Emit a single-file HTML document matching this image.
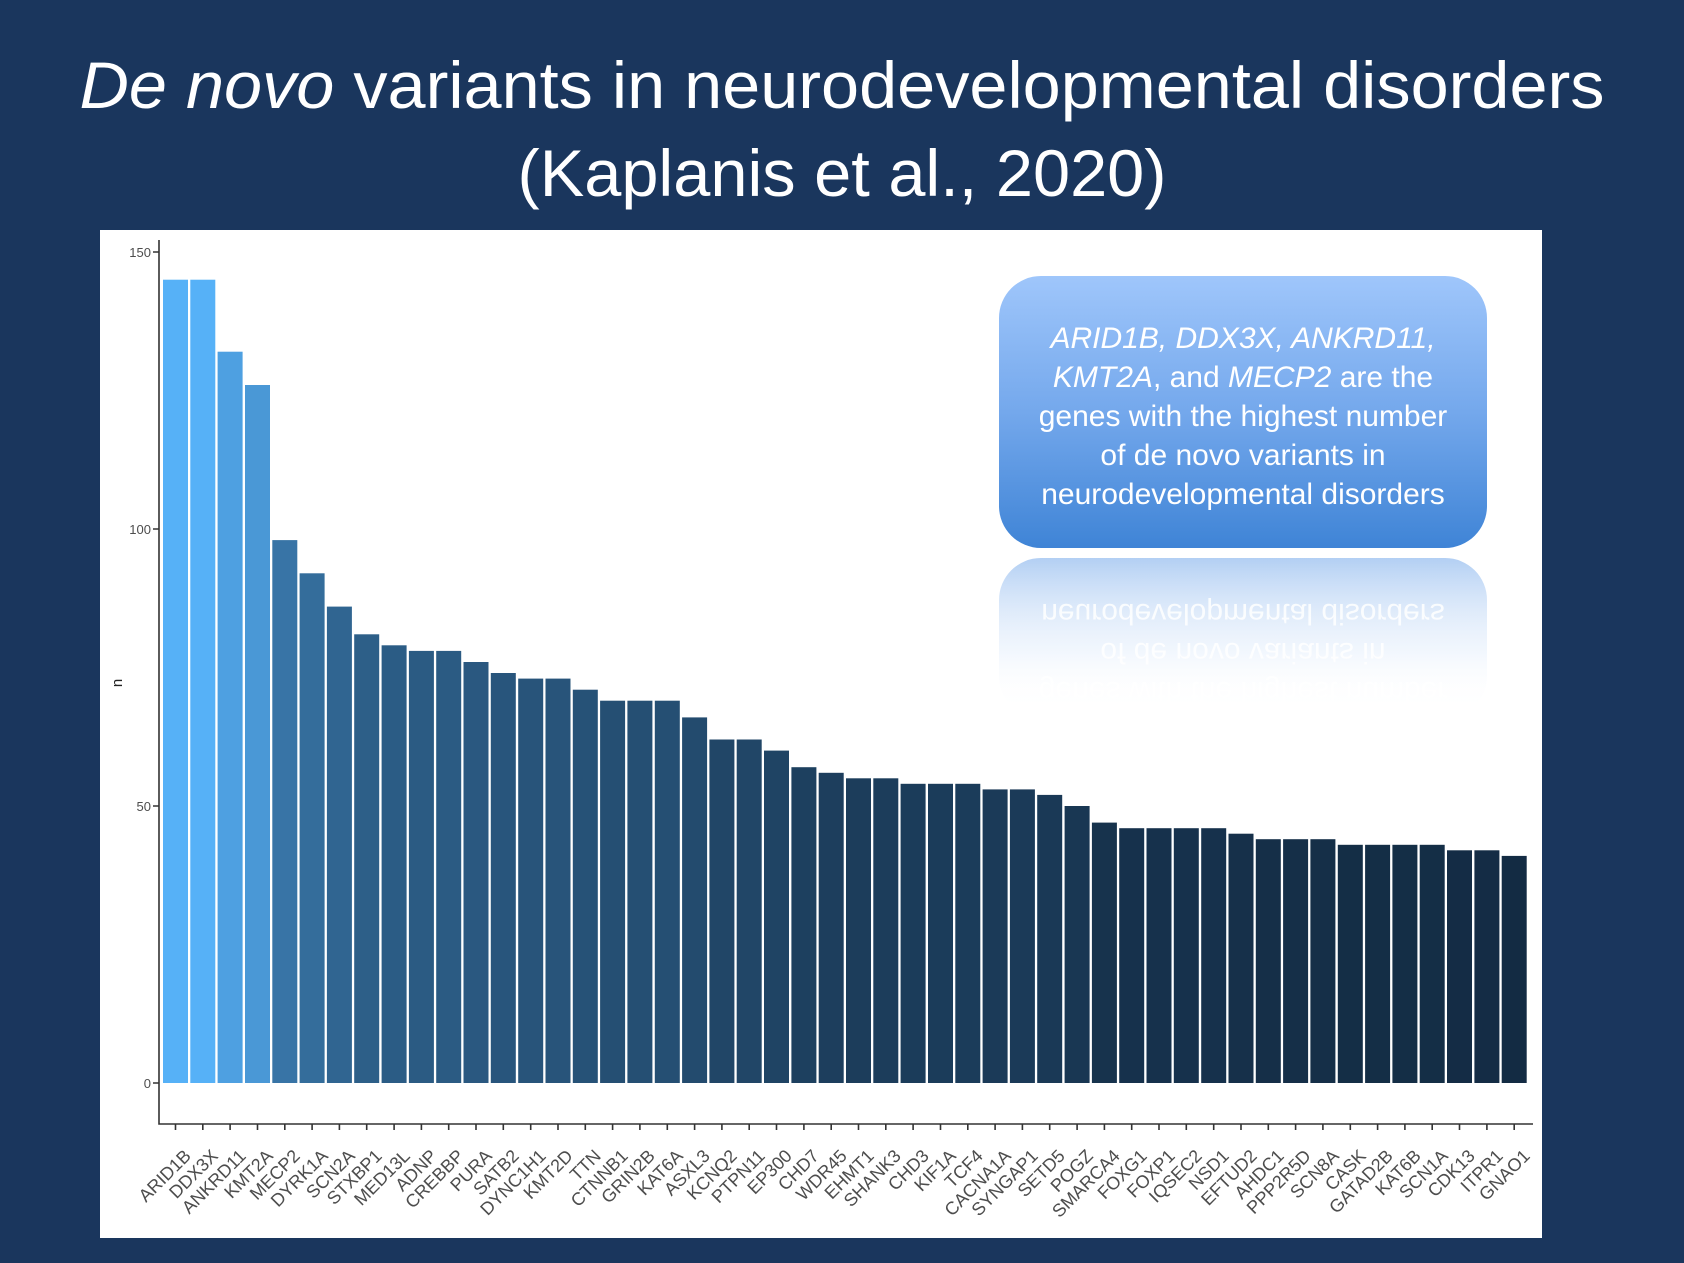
<!DOCTYPE html>
<html><head><meta charset="utf-8"><style>
html,body{margin:0;padding:0;background:#1a365d;}
svg{display:block;}
</style></head><body>
<svg width="1684" height="1263" viewBox="0 0 1684 1263" xmlns="http://www.w3.org/2000/svg">
<defs>
<linearGradient id="box" x1="0" y1="0" x2="0" y2="1">
<stop offset="0" stop-color="#9fc6fb"/><stop offset="0.5" stop-color="#74a8ec"/><stop offset="1" stop-color="#3f84d6"/>
</linearGradient>
<linearGradient id="refl" x1="0" y1="0" x2="0" y2="1">
<stop offset="0" stop-color="#a9c9f2" stop-opacity="0.9"/><stop offset="0.6" stop-color="#d6e6fa" stop-opacity="0.5"/><stop offset="1" stop-color="#ffffff" stop-opacity="0"/>
</linearGradient>
<linearGradient id="fadeT" x1="0" y1="0" x2="0" y2="1">
<stop offset="0" stop-color="#fff" stop-opacity="0"/><stop offset="0.55" stop-color="#fff" stop-opacity="0.4"/><stop offset="1" stop-color="#fff" stop-opacity="1"/>
</linearGradient>
</defs>
<rect width="1684" height="1263" fill="#1a365d"/>
<g font-family="'Liberation Sans', sans-serif" fill="#fff" font-size="66" text-anchor="middle">
<text x="842" y="108" textLength="1525" lengthAdjust="spacingAndGlyphs"><tspan font-style="italic">De novo</tspan> variants in neurodevelopmental disorders</text>
<text x="842" y="196" textLength="649" lengthAdjust="spacingAndGlyphs">(Kaplanis et al., 2020)</text>
</g>
<rect x="100" y="230" width="1442" height="1008" fill="#fff"/>
<g>
<rect x="163.0" y="279.7" width="25" height="803.3" fill="#56b1f7"/>
<rect x="190.3" y="279.7" width="25" height="803.3" fill="#56b1f7"/>
<rect x="217.6" y="351.7" width="25" height="731.3" fill="#4ea0e1"/>
<rect x="245.0" y="385.0" width="25" height="698.0" fill="#4a98d6"/>
<rect x="272.3" y="540.1" width="25" height="542.9" fill="#3874a6"/>
<rect x="299.6" y="573.3" width="25" height="509.7" fill="#346d9b"/>
<rect x="326.9" y="606.6" width="25" height="476.4" fill="#306591"/>
<rect x="354.2" y="634.3" width="25" height="448.7" fill="#2d5f88"/>
<rect x="381.6" y="645.3" width="25" height="437.7" fill="#2b5c85"/>
<rect x="408.9" y="650.9" width="25" height="432.1" fill="#2b5b83"/>
<rect x="436.2" y="650.9" width="25" height="432.1" fill="#2b5b83"/>
<rect x="463.5" y="662.0" width="25" height="421.0" fill="#2a5880"/>
<rect x="490.8" y="673.0" width="25" height="410.0" fill="#28557c"/>
<rect x="518.2" y="678.6" width="25" height="404.4" fill="#28547a"/>
<rect x="545.5" y="678.6" width="25" height="404.4" fill="#28547a"/>
<rect x="572.8" y="689.7" width="25" height="393.3" fill="#265277"/>
<rect x="600.1" y="700.7" width="25" height="382.3" fill="#254f73"/>
<rect x="627.4" y="700.7" width="25" height="382.3" fill="#254f73"/>
<rect x="654.8" y="700.7" width="25" height="382.3" fill="#254f73"/>
<rect x="682.1" y="717.4" width="25" height="365.6" fill="#234b6e"/>
<rect x="709.4" y="739.5" width="25" height="343.5" fill="#214667"/>
<rect x="736.7" y="739.5" width="25" height="343.5" fill="#214667"/>
<rect x="764.0" y="750.6" width="25" height="332.4" fill="#1f4464"/>
<rect x="791.4" y="767.2" width="25" height="315.8" fill="#1d405f"/>
<rect x="818.7" y="772.8" width="25" height="310.2" fill="#1d3e5d"/>
<rect x="846.0" y="778.3" width="25" height="304.7" fill="#1c3d5b"/>
<rect x="873.3" y="778.3" width="25" height="304.7" fill="#1c3d5b"/>
<rect x="900.6" y="783.8" width="25" height="299.2" fill="#1b3c5a"/>
<rect x="928.0" y="783.8" width="25" height="299.2" fill="#1b3c5a"/>
<rect x="955.3" y="783.8" width="25" height="299.2" fill="#1b3c5a"/>
<rect x="982.6" y="789.4" width="25" height="293.6" fill="#1b3a58"/>
<rect x="1009.9" y="789.4" width="25" height="293.6" fill="#1b3a58"/>
<rect x="1037.2" y="794.9" width="25" height="288.1" fill="#1a3956"/>
<rect x="1064.6" y="806.0" width="25" height="277.0" fill="#193753"/>
<rect x="1091.9" y="822.6" width="25" height="260.4" fill="#17334d"/>
<rect x="1119.2" y="828.2" width="25" height="254.8" fill="#16314c"/>
<rect x="1146.5" y="828.2" width="25" height="254.8" fill="#16314c"/>
<rect x="1173.8" y="828.2" width="25" height="254.8" fill="#16314c"/>
<rect x="1201.2" y="828.2" width="25" height="254.8" fill="#16314c"/>
<rect x="1228.5" y="833.7" width="25" height="249.3" fill="#16304a"/>
<rect x="1255.8" y="839.2" width="25" height="243.8" fill="#152f48"/>
<rect x="1283.1" y="839.2" width="25" height="243.8" fill="#152f48"/>
<rect x="1310.4" y="839.2" width="25" height="243.8" fill="#152f48"/>
<rect x="1337.8" y="844.8" width="25" height="238.2" fill="#142e46"/>
<rect x="1365.1" y="844.8" width="25" height="238.2" fill="#142e46"/>
<rect x="1392.4" y="844.8" width="25" height="238.2" fill="#142e46"/>
<rect x="1419.7" y="844.8" width="25" height="238.2" fill="#142e46"/>
<rect x="1447.0" y="850.3" width="25" height="232.7" fill="#142c45"/>
<rect x="1474.4" y="850.3" width="25" height="232.7" fill="#142c45"/>
<rect x="1501.7" y="855.9" width="25" height="227.1" fill="#132b43"/>
</g>
<g stroke="#333" stroke-width="1.6" fill="none">
<path d="M159 240 V1124 H1533"/>
<path d="M153 252 H159 M153 529 H159 M153 806 H159 M153 1083 H159"/>
<path d="M175.5 1124v6M202.8 1124v6M230.1 1124v6M257.5 1124v6M284.8 1124v6M312.1 1124v6M339.4 1124v6M366.7 1124v6M394.1 1124v6M421.4 1124v6M448.7 1124v6M476 1124v6M503.3 1124v6M530.7 1124v6M558 1124v6M585.3 1124v6M612.6 1124v6M639.9 1124v6M667.3 1124v6M694.6 1124v6M721.9 1124v6M749.2 1124v6M776.5 1124v6M803.9 1124v6M831.2 1124v6M858.5 1124v6M885.8 1124v6M913.1 1124v6M940.5 1124v6M967.8 1124v6M995.1 1124v6M1022.4 1124v6M1049.7 1124v6M1077.1 1124v6M1104.4 1124v6M1131.7 1124v6M1159 1124v6M1186.3 1124v6M1213.7 1124v6M1241 1124v6M1268.3 1124v6M1295.6 1124v6M1322.9 1124v6M1350.3 1124v6M1377.6 1124v6M1404.9 1124v6M1432.2 1124v6M1459.5 1124v6M1486.9 1124v6M1514.2 1124v6"/>
</g>
<g font-family="'Liberation Sans', sans-serif" fill="#4d4d4d" font-size="13" text-anchor="end">
<text x="151" y="257">150</text><text x="151" y="534">100</text><text x="151" y="811">50</text><text x="151" y="1088">0</text>
</g>
<text transform="translate(122,683) rotate(-90)" font-family="'Liberation Sans', sans-serif" font-size="15" fill="#222" text-anchor="middle">n</text>
<g font-family="'Liberation Sans', sans-serif" fill="#4d4d4d" font-size="18" text-anchor="end">
<text transform="translate(192,1157) rotate(-45)">ARID1B</text>
<text transform="translate(219,1157) rotate(-45)">DDX3X</text>
<text transform="translate(247,1157) rotate(-45)">ANKRD11</text>
<text transform="translate(274,1157) rotate(-45)">KMT2A</text>
<text transform="translate(301,1157) rotate(-45)">MECP2</text>
<text transform="translate(329,1157) rotate(-45)">DYRK1A</text>
<text transform="translate(356,1157) rotate(-45)">SCN2A</text>
<text transform="translate(383,1157) rotate(-45)">STXBP1</text>
<text transform="translate(411,1157) rotate(-45)">MED13L</text>
<text transform="translate(438,1157) rotate(-45)">ADNP</text>
<text transform="translate(465,1157) rotate(-45)">CREBBP</text>
<text transform="translate(493,1157) rotate(-45)">PURA</text>
<text transform="translate(520,1157) rotate(-45)">SATB2</text>
<text transform="translate(547,1157) rotate(-45)">DYNC1H1</text>
<text transform="translate(574,1157) rotate(-45)">KMT2D</text>
<text transform="translate(602,1157) rotate(-45)">TTN</text>
<text transform="translate(629,1157) rotate(-45)">CTNNB1</text>
<text transform="translate(656,1157) rotate(-45)">GRIN2B</text>
<text transform="translate(684,1157) rotate(-45)">KAT6A</text>
<text transform="translate(711,1157) rotate(-45)">ASXL3</text>
<text transform="translate(738,1157) rotate(-45)">KCNQ2</text>
<text transform="translate(766,1157) rotate(-45)">PTPN11</text>
<text transform="translate(793,1157) rotate(-45)">EP300</text>
<text transform="translate(820,1157) rotate(-45)">CHD7</text>
<text transform="translate(848,1157) rotate(-45)">WDR45</text>
<text transform="translate(875,1157) rotate(-45)">EHMT1</text>
<text transform="translate(902,1157) rotate(-45)">SHANK3</text>
<text transform="translate(930,1157) rotate(-45)">CHD3</text>
<text transform="translate(957,1157) rotate(-45)">KIF1A</text>
<text transform="translate(984,1157) rotate(-45)">TCF4</text>
<text transform="translate(1012,1157) rotate(-45)">CACNA1A</text>
<text transform="translate(1039,1157) rotate(-45)">SYNGAP1</text>
<text transform="translate(1066,1157) rotate(-45)">SETD5</text>
<text transform="translate(1094,1157) rotate(-45)">POGZ</text>
<text transform="translate(1121,1157) rotate(-45)">SMARCA4</text>
<text transform="translate(1148,1157) rotate(-45)">FOXG1</text>
<text transform="translate(1176,1157) rotate(-45)">FOXP1</text>
<text transform="translate(1203,1157) rotate(-45)">IQSEC2</text>
<text transform="translate(1230,1157) rotate(-45)">NSD1</text>
<text transform="translate(1258,1157) rotate(-45)">EFTUD2</text>
<text transform="translate(1285,1157) rotate(-45)">AHDC1</text>
<text transform="translate(1312,1157) rotate(-45)">PPP2R5D</text>
<text transform="translate(1340,1157) rotate(-45)">SCN8A</text>
<text transform="translate(1367,1157) rotate(-45)">CASK</text>
<text transform="translate(1394,1157) rotate(-45)">GATAD2B</text>
<text transform="translate(1422,1157) rotate(-45)">KAT6B</text>
<text transform="translate(1449,1157) rotate(-45)">SCN1A</text>
<text transform="translate(1476,1157) rotate(-45)">CDK13</text>
<text transform="translate(1504,1157) rotate(-45)">ITPR1</text>
<text transform="translate(1531,1157) rotate(-45)">GNAO1</text>
</g>
<!-- reflection -->
<rect x="999" y="558" width="488" height="160" rx="42" fill="url(#refl)"/>
<g transform="translate(0,1108) scale(1,-1)" font-family="'Liberation Sans', sans-serif" font-size="30" fill="#fff" fill-opacity="0.85" text-anchor="middle">
<text x="1243" y="426">genes with the highest number</text>
<text x="1243" y="465">of de novo variants in</text>
<text x="1243" y="504">neurodevelopmental disorders</text>
</g>
<rect x="995" y="555" width="500" height="170" fill="url(#fadeT)" opacity="0.9"/>
<!-- callout -->
<rect x="999" y="276" width="488" height="272" rx="42" fill="url(#box)"/>
<g font-family="'Liberation Sans', sans-serif" font-size="30" fill="#fff" text-anchor="middle">
<text x="1243" y="348" font-style="italic">ARID1B, DDX3X, ANKRD11,</text>
<text x="1243" y="387"><tspan font-style="italic">KMT2A</tspan>, and <tspan font-style="italic">MECP2</tspan> are the</text>
<text x="1243" y="426">genes with the highest number</text>
<text x="1243" y="465">of de novo variants in</text>
<text x="1243" y="504">neurodevelopmental disorders</text>
</g>
</svg>
</body></html>
